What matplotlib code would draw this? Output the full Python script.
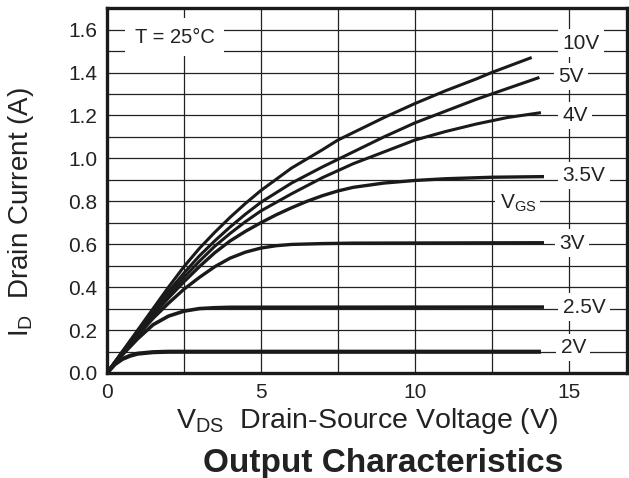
import numpy as np
import matplotlib
matplotlib.use("Agg")
import matplotlib.pyplot as plt
from matplotlib.ticker import MultipleLocator, FormatStrFormatter

plt.rcParams['font.family'] = ['Liberation Sans', 'DejaVu Sans']
plt.rcParams['mathtext.fontset'] = 'custom'
plt.rcParams['mathtext.rm'] = 'Liberation Sans'

# drain current curves, one per gate voltage
vds_10 = [0, 0.5, 1, 1.5, 2, 2.5, 3, 3.5, 4, 4.5, 5, 6, 7, 7.5, 8, 9, 10, 11, 12, 12.5, 13.8]
id_10 = [0, 0.10, 0.20, 0.30, 0.40, 0.495, 0.58, 0.655, 0.725, 0.79, 0.85, 0.955, 1.04,
         1.085, 1.12, 1.19, 1.255, 1.315, 1.37, 1.40, 1.47]

vds_5 = [0, 0.5, 1, 1.5, 2, 2.5, 3, 3.5, 4, 4.5, 5, 6, 7, 8, 9, 10, 11, 12, 13, 14.05]
id_5 = [0, 0.098, 0.195, 0.29, 0.38, 0.465, 0.545, 0.615, 0.68, 0.74, 0.795, 0.885, 0.96,
        1.03, 1.10, 1.165, 1.22, 1.275, 1.325, 1.377]

vds_4 = [0, 0.5, 1, 1.5, 2, 2.5, 3, 3.5, 4, 4.5, 5, 6, 7, 8, 9, 10, 11, 12, 13, 14.1]
id_4 = [0, 0.096, 0.19, 0.28, 0.365, 0.445, 0.52, 0.59, 0.65, 0.705, 0.755, 0.835, 0.91,
        0.975, 1.03, 1.085, 1.125, 1.16, 1.19, 1.213]

vds_35 = [0, 0.5, 1, 1.5, 2, 2.5, 3, 3.5, 4, 4.5, 5, 5.5, 6, 6.5, 7, 7.5, 8, 9, 10, 11, 12.5, 14.2]
id_35 = [0, 0.094, 0.185, 0.27, 0.35, 0.425, 0.495, 0.56, 0.615, 0.66, 0.70, 0.737, 0.77,
         0.80, 0.826, 0.848, 0.865, 0.885, 0.897, 0.905, 0.912, 0.915]

vds_3 = [0, 0.5, 1, 1.5, 2, 2.5, 3, 3.5, 4, 4.5, 5, 5.5, 6, 7, 8, 14.2]
id_3 = [0, 0.09, 0.175, 0.255, 0.325, 0.39, 0.445, 0.495, 0.535, 0.563, 0.582, 0.593,
        0.599, 0.603, 0.605, 0.607]

vds_25 = [0, 0.5, 1, 1.5, 2, 2.5, 3, 3.5, 4, 14.2]
id_25 = [0, 0.085, 0.16, 0.225, 0.265, 0.288, 0.300, 0.304, 0.306, 0.307]

vds_2 = [0, 0.25, 0.5, 0.75, 1, 1.5, 2, 14.1]
id_2 = [0, 0.04, 0.065, 0.08, 0.09, 0.097, 0.099, 0.099]

curves = [(vds_10, id_10, 2.2), (vds_5, id_5, 2.2), (vds_4, id_4, 2.2),
          (vds_35, id_35, 2.4), (vds_3, id_3, 2.4), (vds_25, id_25, 2.6),
          (vds_2, id_2, 3.0)]

vgs_labels = ['10V', '5V', '4V', '3.5V', '3V', '2.5V', '2V']
label_x = [15.4, 15.07, 15.2, 15.5, 15.1, 15.5, 15.15]
label_y = [1.537, 1.38, 1.20, 0.92, 0.605, 0.307, 0.12]

fig = plt.figure(figsize=(6.29, 4.78), dpi=100)
ax = fig.add_axes([0.170, 0.2197, 0.827, 0.7633])

for x, y, lw in curves:
    ax.plot(x, y, color='#1a1a1a', lw=lw, solid_capstyle='butt', zorder=3)

ax.set_xlim(0, 16.9)
ax.set_ylim(0, 1.70)
ax.xaxis.set_major_locator(MultipleLocator(5))
ax.xaxis.set_minor_locator(MultipleLocator(2.5))
ax.yaxis.set_major_locator(MultipleLocator(0.2))
ax.yaxis.set_minor_locator(MultipleLocator(0.1))
ax.grid(which='both', color='#222222', lw=0.9, zorder=1)
ax.set_axisbelow(True)
ax.tick_params(which='both', length=0, labelsize=15, colors='#222222')
ax.tick_params(axis='y', pad=7)
ax.tick_params(axis='x', pad=7)
ax.yaxis.set_major_formatter(FormatStrFormatter('%.1f'))
for s in ax.spines.values():
    s.set_linewidth(2.4)
    s.set_color('#1a1a1a')

box = dict(facecolor='white', edgecolor='none', pad=3)
for lab, lx, ly in zip(vgs_labels, label_x, label_y):
    ax.text(lx, ly, lab, fontsize=15, ha='center', va='center',
            color='#222222', bbox=box, zorder=4)
ax.text(13.35, 0.79, r'$\mathrm{V_{GS}}$', fontsize=15, ha='center', va='center',
        color='#222222', bbox=box, zorder=4)
ax.text(2.2, 1.565, 'T = 25°C', fontsize=14.5, ha='center', va='center',
        color='#222222', bbox=dict(facecolor='white', edgecolor='none', pad=7), zorder=4)

ax.set_xlabel(r'$\mathrm{V_{DS}}$  Drain-Source Voltage (V)', fontsize=20.5,
              color='#222222', labelpad=3)
ax.set_ylabel(r'$\mathrm{I_{D}}$  Drain Current (A)', fontsize=20, color='#222222')
ax.yaxis.set_label_coords(-0.165, 0.44)
ax.yaxis.label.set_va('center')
fig.text(0.609, 0.03, 'Output Characteristics', fontsize=24, fontweight='bold',
         ha='center', va='center', color='#222222')

fig.savefig('out.png', dpi=100)
